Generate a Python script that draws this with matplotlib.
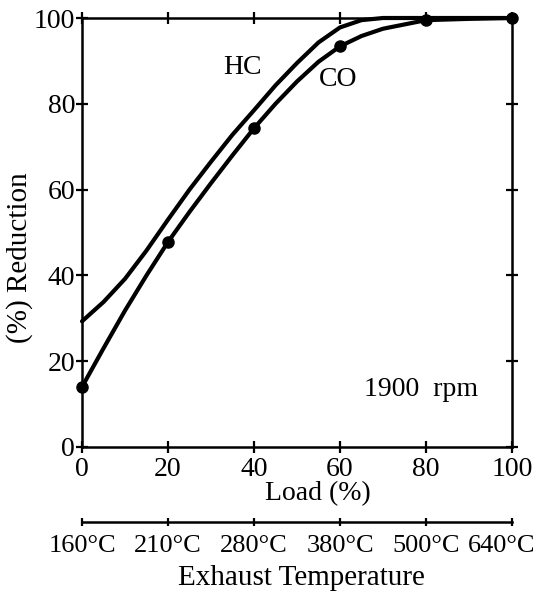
import numpy as np
import matplotlib
matplotlib.use("Agg")
import matplotlib.pyplot as plt
import matplotlib.transforms as mtransforms

plt.rcParams["font.family"] = ["Liberation Serif", "DejaVu Serif"]

# values
load = [0, 5, 10, 15, 20, 25, 30, 35, 40, 45, 50, 55, 60, 65, 70, 80, 90, 100]
hc = [29.3, 33.8, 39.2, 45.8, 53.0, 60.0, 66.5, 72.8, 78.5, 84.3, 89.5, 94.3, 97.8, 99.5, 100, 100, 100, 100]
co = [14.0, 23.0, 31.8, 40.0, 47.8, 54.8, 61.5, 68.0, 74.3, 80.0, 85.2, 89.8, 93.4, 95.8, 97.5, 99.5, 99.8, 100]
measured = [0, 20, 40, 60, 80, 100]

load_ticks = [0, 20, 40, 60, 80, 100]
temp_labels = ["160°C", "210°C", "280°C", "380°C", "500°C", "640°C"]

W, H = 543, 592
fig = plt.figure(figsize=(W / 100, H / 100), dpi=100)
ax = fig.add_axes([82 / W, (H - 447) / H, 430 / W, 429 / H])

ax.plot(load, hc, color="black", lw=3, solid_capstyle="round", clip_on=False)
ax.plot(load, co, color="black", lw=3, solid_capstyle="round", clip_on=False)
sel = np.isin(load, measured)
ax.plot(np.array(load)[sel], np.array(co)[sel], "o", color="black", ms=8, clip_on=False)

ax.set_xlim(0, 100)
ax.set_ylim(0, 100)
ax.set_xticks(load_ticks)
ax.set_yticks([0, 20, 40, 60, 80, 100])
for s in ax.spines.values():
    s.set_linewidth(1.8)
ax.tick_params(axis="both", labelsize=20, width=1.6, length=8, direction="inout",
               top=True, right=True, pad=1)
ax.tick_params(axis="x", pad=3)

ax.set_ylabel("(%) Reduction", fontsize=21)
ax.yaxis.set_label_coords(-49 / 430, (447 - 258) / 429)
fig.text(318 / W, 1 - 494 / H, "Load (%)", fontsize=20, ha="center", va="center")

ax.text((242 - 82) / 430 * 100, (447 - 67) / 429 * 100, "HC", fontsize=20, ha="center", va="center")
ax.text((338 - 82) / 430 * 100, (447 - 80) / 429 * 100, "CO", fontsize=20, ha="center", va="center")
ax.text((421 - 82) / 430 * 100, (447 - 390) / 429 * 100, "1900  rpm", fontsize=20,
        ha="center", va="center")

# temperature scale below
ax2 = fig.add_axes([82 / W, (H - 522) / H, 430 / W, 0.001])
ax2.set_xlim(0, 100)
ax2.set_yticks([])
for k in ["top", "left", "right"]:
    ax2.spines[k].set_visible(False)
ax2.spines["bottom"].set_linewidth(1.8)
ax2.set_xticks(load_ticks)
ax2.set_xticklabels(temp_labels)
ax2.tick_params(axis="x", labelsize=19, width=1.6, length=6, direction="inout", pad=6)
last = ax2.get_xticklabels()[-1]
last.set_transform(last.get_transform() + mtransforms.ScaledTranslation(-10 / 100, 0, fig.dpi_scale_trans))
fig.text(301 / W, 1 - 578 / H, "Exhaust Temperature", fontsize=21, ha="center", va="center")

fig.savefig("out.png", dpi=100)
